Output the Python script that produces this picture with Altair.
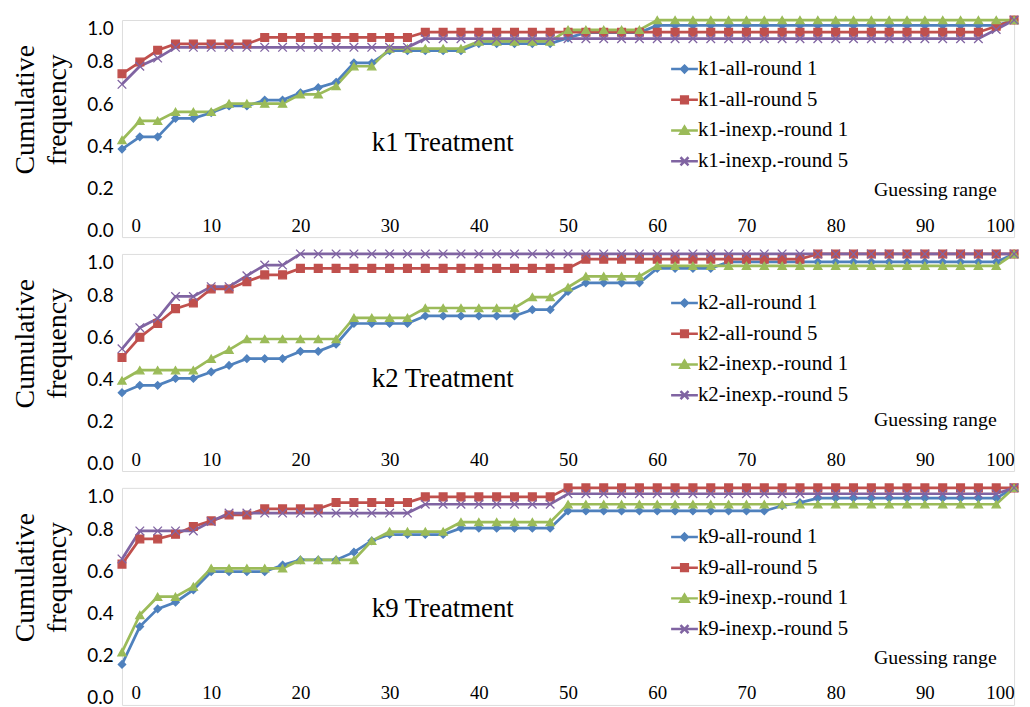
import altair as alt
import pandas as pd

# ---------------- data ----------------
X_VALUES = list(range(0, 101, 2))  # guessing range categories 0,2,...,100
X_TICKS = [0, 10, 20, 30, 40, 50, 60, 70, 80, 90, 100]
Y_TICKS = [0.0, 0.2, 0.4, 0.6, 0.8, 1.0]

K1_ALL_R1 = [0.386, 0.444, 0.444, 0.532, 0.532, 0.559, 0.591, 0.591, 0.619, 0.619,
             0.654, 0.678, 0.704, 0.796, 0.796, 0.854, 0.854, 0.854, 0.854, 0.854,
             0.888, 0.888, 0.888, 0.888, 0.888, 0.915, 0.940, 0.940, 0.940, 0.940,
             0.974, 0.974, 0.974, 0.974, 0.974, 0.974, 0.974, 0.974, 0.974, 0.974,
             0.974, 0.974, 0.974, 0.974, 0.974, 0.974, 0.974, 0.974, 0.974, 0.974, 1.0]
K1_ALL_R5 = [0.744, 0.800, 0.856, 0.886, 0.886, 0.886, 0.886, 0.886, 0.917, 0.917,
             0.917, 0.917, 0.917, 0.917, 0.917, 0.917, 0.917, 0.942, 0.942, 0.942,
             0.942, 0.942, 0.942, 0.942, 0.942, 0.942, 0.942, 0.942, 0.942, 0.942,
             0.942, 0.942, 0.942, 0.942, 0.942, 0.942, 0.942, 0.942, 0.942, 0.942,
             0.942, 0.942, 0.942, 0.942, 0.942, 0.942, 0.942, 0.942, 0.942, 0.970, 1.0]
K1_INEXP_R1 = [0.429, 0.520, 0.520, 0.563, 0.563, 0.563, 0.602, 0.602, 0.602, 0.602,
               0.646, 0.646, 0.686, 0.780, 0.780, 0.864, 0.864, 0.864, 0.864, 0.864,
               0.898, 0.898, 0.898, 0.898, 0.898, 0.953, 0.953, 0.953, 0.953, 0.953,
               1.0, 1.0, 1.0, 1.0, 1.0, 1.0, 1.0, 1.0, 1.0, 1.0,
               1.0, 1.0, 1.0, 1.0, 1.0, 1.0, 1.0, 1.0, 1.0, 1.0, 1.0]
K1_INEXP_R5 = [0.694, 0.780, 0.819, 0.870, 0.870, 0.870, 0.870, 0.870, 0.870, 0.870,
               0.870, 0.870, 0.870, 0.870, 0.870, 0.870, 0.870, 0.911, 0.911, 0.911,
               0.911, 0.911, 0.911, 0.911, 0.911, 0.911, 0.911, 0.911, 0.911, 0.911,
               0.911, 0.911, 0.911, 0.911, 0.911, 0.911, 0.911, 0.911, 0.911, 0.911,
               0.911, 0.911, 0.911, 0.911, 0.911, 0.911, 0.911, 0.911, 0.911, 0.955, 1.0]

K2_ALL_R1 = [0.338, 0.373, 0.373, 0.406, 0.406, 0.437, 0.468, 0.500, 0.500, 0.500,
             0.535, 0.535, 0.569, 0.668, 0.668, 0.668, 0.668, 0.704, 0.704, 0.704,
             0.704, 0.704, 0.704, 0.734, 0.734, 0.821, 0.862, 0.862, 0.862, 0.862,
             0.931, 0.931, 0.931, 0.931, 0.962, 0.962, 0.962, 0.962, 0.962, 0.962,
             0.962, 0.962, 0.962, 0.962, 0.962, 0.962, 0.962, 0.962, 0.962, 0.962, 1.0]
K2_ALL_R5 = [0.506, 0.602, 0.668, 0.739, 0.766, 0.833, 0.833, 0.868, 0.900, 0.900,
             0.931, 0.931, 0.931, 0.931, 0.931, 0.931, 0.931, 0.931, 0.931, 0.931,
             0.931, 0.931, 0.931, 0.931, 0.931, 0.931, 0.975, 0.975, 0.975, 0.975,
             0.975, 0.975, 0.975, 0.975, 0.975, 0.975, 0.975, 0.975, 0.975, 1.0,
             1.0, 1.0, 1.0, 1.0, 1.0, 1.0, 1.0, 1.0, 1.0, 1.0, 1.0]
K2_INEXP_R1 = [0.396, 0.445, 0.445, 0.445, 0.445, 0.500, 0.542, 0.594, 0.594, 0.594,
               0.594, 0.594, 0.594, 0.695, 0.695, 0.695, 0.695, 0.742, 0.742, 0.742,
               0.742, 0.742, 0.742, 0.794, 0.794, 0.841, 0.893, 0.893, 0.893, 0.893,
               0.943, 0.943, 0.943, 0.943, 0.943, 0.943, 0.943, 0.943, 0.943, 0.943,
               0.943, 0.943, 0.943, 0.943, 0.943, 0.943, 0.943, 0.943, 0.943, 0.943, 1.0]
K2_INEXP_R5 = [0.547, 0.648, 0.692, 0.797, 0.797, 0.844, 0.844, 0.896, 0.947, 0.947,
               1.0, 1.0, 1.0, 1.0, 1.0, 1.0, 1.0, 1.0, 1.0, 1.0,
               1.0, 1.0, 1.0, 1.0, 1.0, 1.0, 1.0, 1.0, 1.0, 1.0,
               1.0, 1.0, 1.0, 1.0, 1.0, 1.0, 1.0, 1.0, 1.0, 1.0,
               1.0, 1.0, 1.0, 1.0, 1.0, 1.0, 1.0, 1.0, 1.0, 1.0, 1.0]

K9_ALL_R1 = [0.160, 0.340, 0.424, 0.456, 0.514, 0.601, 0.601, 0.601, 0.601, 0.633,
             0.657, 0.657, 0.657, 0.694, 0.748, 0.778, 0.778, 0.778, 0.778, 0.808,
             0.808, 0.808, 0.808, 0.808, 0.808, 0.890, 0.890, 0.890, 0.890, 0.890,
             0.890, 0.890, 0.890, 0.890, 0.890, 0.890, 0.890, 0.915, 0.930, 0.951,
             0.951, 0.951, 0.951, 0.951, 0.951, 0.951, 0.951, 0.951, 0.951, 0.951, 1.0]
K9_ALL_R5 = [0.637, 0.757, 0.757, 0.779, 0.816, 0.843, 0.871, 0.871, 0.900, 0.900,
             0.900, 0.900, 0.930, 0.930, 0.930, 0.930, 0.930, 0.957, 0.957, 0.957,
             0.957, 0.957, 0.957, 0.957, 0.957, 1.0, 1.0, 1.0, 1.0, 1.0,
             1.0, 1.0, 1.0, 1.0, 1.0, 1.0, 1.0, 1.0, 1.0, 1.0,
             1.0, 1.0, 1.0, 1.0, 1.0, 1.0, 1.0, 1.0, 1.0, 1.0, 1.0]
K9_INEXP_R1 = [0.218, 0.395, 0.482, 0.482, 0.530, 0.617, 0.617, 0.617, 0.617, 0.617,
               0.657, 0.657, 0.657, 0.657, 0.748, 0.792, 0.792, 0.792, 0.792, 0.837,
               0.837, 0.837, 0.837, 0.837, 0.837, 0.922, 0.922, 0.922, 0.922, 0.922,
               0.922, 0.922, 0.922, 0.922, 0.922, 0.922, 0.922, 0.922, 0.922, 0.922,
               0.922, 0.922, 0.922, 0.922, 0.922, 0.922, 0.922, 0.922, 0.922, 0.922, 1.0]
K9_INEXP_R5 = [0.662, 0.795, 0.795, 0.795, 0.795, 0.840, 0.880, 0.880, 0.880, 0.880,
               0.880, 0.880, 0.880, 0.880, 0.880, 0.880, 0.880, 0.922, 0.922, 0.922,
               0.922, 0.922, 0.922, 0.922, 0.922, 0.972, 0.972, 0.972, 0.972, 0.972,
               0.972, 0.972, 0.972, 0.972, 0.972, 0.972, 0.972, 0.972, 0.972, 0.972,
               0.972, 0.972, 0.972, 0.972, 0.972, 0.972, 0.972, 0.972, 0.972, 0.972, 1.0]

PANELS = [
    ("k1", [K1_ALL_R1, K1_ALL_R5, K1_INEXP_R1, K1_INEXP_R5]),
    ("k2", [K2_ALL_R1, K2_ALL_R5, K2_INEXP_R1, K2_INEXP_R5]),
    ("k9", [K9_ALL_R1, K9_ALL_R5, K9_INEXP_R1, K9_INEXP_R5]),
]
SERIES_SUFFIX = ["-all-round 1", "-all-round 5", "-inexp.-round 1", "-inexp.-round 5"]
TREATMENT_LABEL_X = 28
TREATMENT_LABEL_Y = [0.377, 0.366, 0.387]

# ---------------- styling ----------------
COLORS = ["#4F81BD", "#C0504D", "#9BBB59", "#8064A2"]
DIAMOND = "M0,-1L1,0L0,1L-1,0Z"
XMARK = "M-1,-1L1,1M1,-1L-1,1"
SHAPES = [DIAMOND, "square", "triangle-up", XMARK]
SIZES = [55, 75, 100, 70]
LEG_PATHS = [
    "M-3,0L3,0M0,-0.75L0.75,0L0,0.75L-0.75,0Z",
    "M-3,0L3,0M-0.75,-0.75L0.75,-0.75L0.75,0.75L-0.75,0.75Z",
    "M-3,0L3,0M0,-0.85L0.95,0.75L-0.95,0.75Z",
    "M-3,0L3,0M-0.9,-0.9L0.9,0.9M0.9,-0.9L-0.9,0.9",
]
SERIF = "Liberation Serif"
SANS = "Lato"
HEIGHTS = [219, 219, 219]
YDOMS = [[-0.033, 1.0], [-0.036, 1.0], [-0.033, 1.0]]
XTITLE_Y = [-42, -46, -42]
WIDTH = 900


def make_panel(idx, k, series):
    names = [k + s for s in SERIES_SUFFIX]
    rows = []
    for name, vals in zip(names, series):
        for xv, yv in zip(X_VALUES, vals):
            rows.append({"x": xv, "y": yv, "series": name})
    df = pd.DataFrame(rows)

    x_enc = alt.X("x:Q", scale=alt.Scale(domain=[0, 100], nice=False, zero=False),
                  axis=alt.Axis(values=X_TICKS, labelFont=SERIF, labelFontSize=19,
                                labelColor="black", labelPadding=-21, labelFlush=True,
                                labelOffset={"condition": {"test": "datum.value == 0",
                                                           "value": 9}, "value": 0},
                                ticks=False, grid=False, domain=False,
                                title="Guessing range", titleX=882, titleY=XTITLE_Y[idx],
                                titleAlign="right", titleBaseline="alphabetic",
                                titleFont=SERIF, titleFontSize=20, titleFontWeight="normal",
                                titleColor="black"))
    y_enc = alt.Y("y:Q", scale=alt.Scale(domain=YDOMS[idx], nice=False, zero=False),
                  axis=alt.Axis(values=Y_TICKS, format=".1f", labelFont=SANS,
                                labelFontSize=19, labelColor="black", labelPadding=9,
                                labelFlush=True,
                                ticks=False, grid=False, domain=False,
                                title=["Cumulative", "frequency"], titleFont=SERIF,
                                titleFontSize=28, titleFontWeight="normal",
                                titleLineHeight=32, titleX=-111, titleY=90,
                                titleAlign="center", titleBaseline="top", titleAngle=270,
                                titleColor="black"))

    cscale = alt.Scale(domain=names, range=COLORS)
    lines = alt.Chart(df).mark_line(strokeWidth=2.75).encode(
        x=x_enc, y=y_enc, color=alt.Color("series:N", scale=cscale, legend=None))
    points = alt.Chart(df).mark_point(filled=True, strokeWidth=1.3, opacity=1).encode(
        x=x_enc, y=y_enc,
        fill=alt.Fill("series:N", scale=cscale, legend=None),
        stroke=alt.Stroke("series:N", scale=cscale, legend=None),
        shape=alt.Shape("series:N", scale=alt.Scale(domain=names, range=SHAPES), legend=None),
        size=alt.Size("series:N", scale=alt.Scale(domain=names, range=SIZES), legend=None),
    )
    legend = alt.Legend(
        orient="none", legendX=557, legendY=39, title=None, padding=0,
        symbolSize=81, symbolStrokeWidth=2.5, symbolOpacity=1,
        labelFont=SERIF, labelFontSize=21, labelColor="black",
        labelOffset=3, rowPadding=9,
    )
    legend_layer = alt.Chart(df).transform_filter("datum.x < 0").mark_point(
        filled=True).encode(
        x=x_enc, y=y_enc,
        fill=alt.Fill("series:N", scale=cscale, legend=legend),
        stroke=alt.Stroke("series:N", scale=cscale, legend=legend),
        shape=alt.Shape("series:N", scale=alt.Scale(domain=names, range=LEG_PATHS),
                        legend=legend),
    )
    lab = pd.DataFrame({"x": [TREATMENT_LABEL_X], "y": [TREATMENT_LABEL_Y[idx]],
                        "t": [f"{k} Treatment"]})
    text = alt.Chart(lab).mark_text(align="left", baseline="alphabetic", font=SERIF,
                                    fontSize=27, color="black").encode(
        x=x_enc, y=y_enc, text="t:N")
    return alt.layer(lines, points, legend_layer, text).resolve_scale(
        fill="independent", stroke="independent", shape="independent"
    ).properties(width=WIDTH, height=HEIGHTS[idx])


panels = [make_panel(i, k, s) for i, (k, s) in enumerate(PANELS)]
chart = alt.vconcat(*panels, spacing=17).resolve_scale(
    color="independent", fill="independent", shape="independent", size="independent",
    stroke="independent", y="independent", x="independent"
).properties(
    bounds="flush", padding={"left": 3, "top": 1, "right": 0, "bottom": 0}
).configure_view(stroke="black", strokeWidth=1.3).configure(background="white")

chart.save("out.html", embed_options={"renderer": "svg", "actions": False})
